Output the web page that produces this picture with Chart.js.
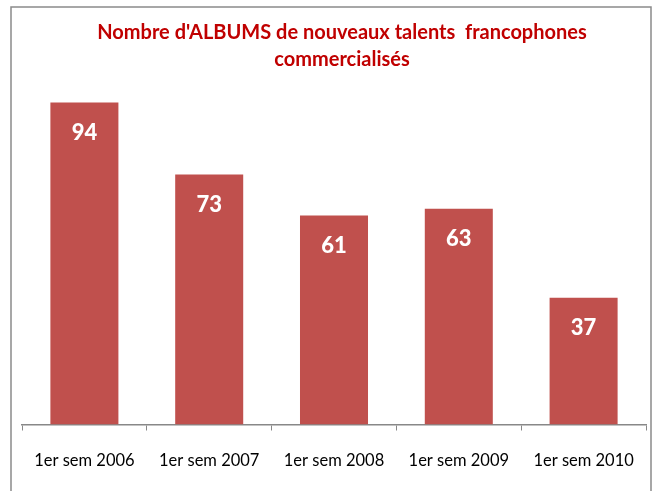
<!DOCTYPE html>
<html>
<head>
<meta charset="utf-8">
<script src="https://cdn.jsdelivr.net/npm/chart.js@4"></script>
<style>
  html, body { margin: 0; padding: 0; background: #fff; }
  #wrap { width: 659px; height: 491px; }
</style>
</head>
<body>
<div id="wrap"><canvas id="albumChart" width="659" height="491"></canvas></div>
<script>
const categories = ['1er sem 2006', '1er sem 2007', '1er sem 2008', '1er sem 2009', '1er sem 2010'];
const albums = [94, 73, 61, 63, 37];
const titleLines = ["Nombre d'ALBUMS de nouveaux talents  francophones", 'commercialisés'];

const FONT = "Lato, 'Open Sans', sans-serif";

// cadre gris autour du graphique
const framePlugin = {
  id: 'frame',
  beforeDraw(chart) {
    const c = chart.ctx;
    c.save();
    c.fillStyle = '#fff';
    c.fillRect(0, 0, chart.width, chart.height);
    c.strokeStyle = '#8a8a8a';
    c.lineWidth = 1.5;
    c.strokeRect(11, 7, 640, 500);
    c.restore();
  }
};

// titre en rouge, légèrement décalé à droite comme dans Excel
const titlePlugin = {
  id: 'titre',
  afterDraw(chart) {
    const c = chart.ctx;
    const cx = (chart.chartArea.left + chart.chartArea.right) / 2 + 8;
    c.save();
    c.fillStyle = '#C00000';
    c.font = 'bold 20px ' + FONT;
    c.textAlign = 'center';
    c.textBaseline = 'middle';
    titleLines.forEach((line, i) => c.fillText(line, cx, 33 + i * 27));
    c.restore();
  }
};

// valeurs en blanc dans le haut des barres
const valuePlugin = {
  id: 'values',
  afterDatasetsDraw(chart) {
    const c = chart.ctx;
    const meta = chart.getDatasetMeta(0);
    c.save();
    c.fillStyle = '#ffffff';
    c.font = '900 22px ' + FONT;
    c.textAlign = 'center';
    c.textBaseline = 'middle';
    meta.data.forEach((bar, i) => {
      c.fillText(String(albums[i]), bar.x, bar.y + 30);
    });
    c.restore();
  }
};

new Chart(document.getElementById('albumChart').getContext('2d'), {
  type: 'bar',
  data: {
    labels: categories,
    datasets: [{
      data: albums,
      backgroundColor: '#C0504D',
      borderWidth: 0,
      barPercentage: 0.545,
      categoryPercentage: 1.0
    }]
  },
  options: {
    responsive: false,
    animation: false,
    layout: { padding: { left: 22, right: 13, top: 82, bottom: 0 } },
    plugins: {
      legend: { display: false },
      tooltip: { enabled: false },
      title: { display: false }
    },
    scales: {
      x: {
        offset: true,
        grid: {
          offset: true,
          drawOnChartArea: false,
          drawTicks: true,
          tickLength: 6,
          color: '#888888'
        },
        border: { color: '#888888', width: 1.5 },
        ticks: { color: '#000000', font: { family: FONT, size: 16.5, lineHeight: 1.0 }, padding: 22, maxRotation: 0 }
      },
      y: {
        display: false,
        min: 0,
        max: 100
      }
    }
  },
  plugins: [framePlugin, titlePlugin, valuePlugin]
});
</script>
</body>
</html>
